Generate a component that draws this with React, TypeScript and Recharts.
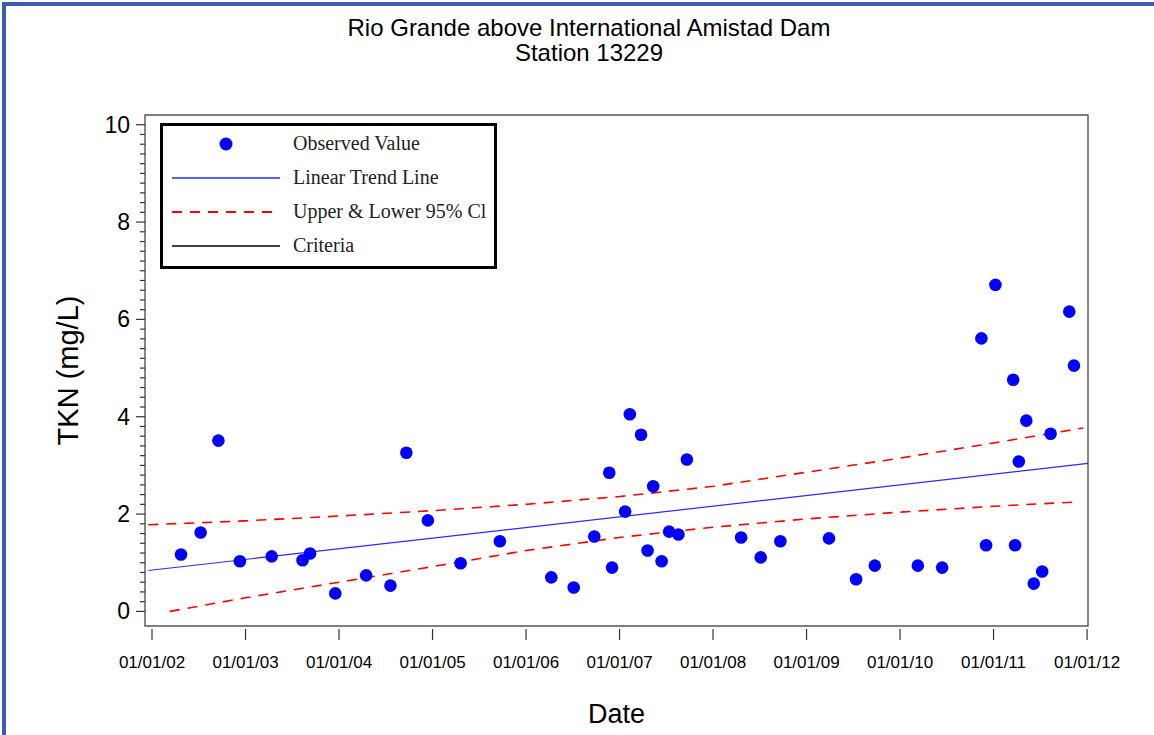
import React from "react";
import {
  ComposedChart,
  Scatter,
  Line,
  XAxis,
  YAxis,
  ReferenceArea,
} from "recharts";

// observed TKN samples (decimal year, mg/L)
const obsDates = [
  2002.31, 2002.52, 2002.71, 2002.94, 2003.28, 2003.61, 2003.69, 2003.96,
  2004.29, 2004.55, 2004.72, 2004.95, 2005.3, 2005.72, 2006.27, 2006.51,
  2006.73, 2006.89, 2006.92, 2007.06, 2007.11, 2007.23, 2007.3, 2007.36,
  2007.45, 2007.53, 2007.63, 2007.72, 2008.3, 2008.51, 2008.72, 2009.24,
  2009.53, 2009.73, 2010.19, 2010.45, 2010.87, 2010.92, 2011.02, 2011.21,
  2011.23, 2011.27, 2011.35, 2011.43, 2011.52, 2011.61, 2011.81, 2011.86,
];
const obsValues = [
  1.17, 1.62, 3.51, 1.03, 1.13, 1.05, 1.19, 0.37,
  0.74, 0.53, 3.26, 1.87, 0.99, 1.44, 0.7, 0.49,
  1.54, 2.85, 0.9, 2.05, 4.05, 3.63, 1.25, 2.57,
  1.03, 1.64, 1.58, 3.12, 1.52, 1.11, 1.44, 1.5,
  0.66, 0.94, 0.94, 0.9, 5.61, 1.36, 6.71, 4.76,
  1.36, 3.08, 3.92, 0.57, 0.82, 3.65, 6.16, 5.05,
];

const trendDates = [2001.96, 2012.01];
const trendValues = [0.84, 3.04];

const upperDates = [2001.96, 2003, 2004, 2005, 2006, 2007, 2008, 2009, 2010, 2011, 2011.96];
const upperValues = [1.78, 1.86, 1.96, 2.07, 2.2, 2.36, 2.57, 2.86, 3.15, 3.46, 3.77];

const lowerDates = [2002.19, 2003, 2004, 2005, 2006, 2007, 2008, 2009, 2010, 2011, 2011.9];
const lowerValues = [0.0, 0.28, 0.6, 0.92, 1.25, 1.52, 1.73, 1.9, 2.04, 2.16, 2.25];

const xTicks = [2002, 2003, 2004, 2005, 2006, 2007, 2008, 2009, 2010, 2011, 2012];
const xTickLabels = [
  "01/01/02", "01/01/03", "01/01/04", "01/01/05", "01/01/06", "01/01/07",
  "01/01/08", "01/01/09", "01/01/10", "01/01/11", "01/01/12",
];
const yMajorTicks = [0, 2, 4, 6, 8, 10];
const yTicks = Array.from({ length: 51 }, (_, i) => (i * 2) / 10);

const xDomain = [2001.925, 2012.01];
const yDomain = [-0.3, 10.2];

const sans = '"Liberation Sans", Arial, sans-serif';
const serif = '"Liberation Serif", "Times New Roman", serif';

const toPoints = (xs: number[], ys: number[]) => xs.map((x, i) => ({ x, y: ys[i] }));

const observed = toPoints(obsDates, obsValues);
const trend = toPoints(trendDates, trendValues);
const upper = toPoints(upperDates, upperValues);
const lower = toPoints(lowerDates, lowerValues);

function XTick({ x, y, payload }: any) {
  const idx = xTicks.indexOf(payload.value);
  return (
    <g>
      <line x1={x} x2={x} y1={y + 3} y2={y + 14} stroke="#333" strokeWidth={1.2} />
      <text x={x} y={y + 42} textAnchor="middle" fontSize={17} fontFamily={sans} fill="#000">
        {xTickLabels[idx]}
      </text>
    </g>
  );
}

function YTick({ x, y, payload }: any) {
  const v = payload.value;
  const major = yMajorTicks.some((m) => Math.abs(m - v) < 1e-6);
  return (
    <g>
      <line x1={x - (major ? 9 : 5)} x2={x} y1={y} y2={y} stroke="#333" strokeWidth={1.2} />
      {major && (
        <text x={x - 15} y={y + 8} textAnchor="end" fontSize={23} fontFamily={sans} fill="#000">
          {Math.round(v)}
        </text>
      )}
    </g>
  );
}

const legendItems = [
  { label: "Observed Value", kind: "dot", color: "#0000ff" },
  { label: "Linear Trend Line", kind: "line", color: "#2a2aff" },
  { label: "Upper & Lower 95% Cl", kind: "dash", color: "#ff0000" },
  { label: "Criteria", kind: "line", color: "#000000" },
];

function ChartLegend() {
  return (
    <div
      style={{
        position: "absolute",
        left: 160,
        top: 123,
        width: 337,
        height: 146,
        border: "3px solid #000",
        boxSizing: "border-box",
        background: "#fff",
      }}
    >
      <svg width={331} height={140} style={{ display: "block" }}>
        {legendItems.map((it, i) => {
          const cy = 18 + i * 34;
          return (
            <g key={it.label}>
              {it.kind === "dot" ? (
                <circle cx={63} cy={cy} r={6.5} fill={it.color} />
              ) : (
                <line
                  x1={9}
                  x2={117}
                  y1={cy}
                  y2={cy}
                  stroke={it.color}
                  strokeWidth={it.kind === "dash" ? 2 : 1.6}
                  strokeDasharray={it.kind === "dash" ? "10 8" : undefined}
                />
              )}
              <text x={130} y={cy + 6} fontSize={20} fontFamily={serif} fill="#222">
                {it.label}
              </text>
            </g>
          );
        })}
      </svg>
    </div>
  );
}

export default function App() {
  return (
    <div
      style={{
        position: "absolute",
        left: 0,
        top: 0,
        width: 1154,
        height: 735,
        background: "#fff",
        overflow: "hidden",
      }}
    >
      <div style={{ position: "absolute", left: 2, top: 2, right: 0, height: 4, background: "#3b5cb4" }} />
      <div style={{ position: "absolute", left: 2, top: 2, width: 4, bottom: 0, background: "#3b5cb4" }} />
      <div
        style={{
          position: "absolute",
          left: 239,
          top: 15,
          width: 700,
          textAlign: "center",
          fontFamily: sans,
          fontSize: 24,
          lineHeight: "25px",
          color: "#000",
        }}
      >
        <div>Rio Grande above International Amistad Dam</div>
        <div>Station 13229</div>
      </div>
      <div style={{ position: "absolute", left: 0, top: 0 }}>
        <ComposedChart
          width={1154}
          height={735}
          margin={{ top: 115, right: 66, left: 65, bottom: 9 }}
        >
          <XAxis
            type="number"
            dataKey="x"
            domain={xDomain}
            ticks={xTicks}
            interval={0}
            allowDataOverflow
            axisLine={false}
            tickLine={false}
            tickSize={0}
            tickMargin={0}
            height={100}
            tick={<XTick />}
            label={{
              content: ({ viewBox }: any) => (
                <text
                  x={viewBox.x + viewBox.width / 2}
                  y={viewBox.y + 97}
                  textAnchor="middle"
                  fontSize={27}
                  fontFamily={sans}
                  fill="#000"
                >
                  Date
                </text>
              ),
            }}
          />
          <YAxis
            type="number"
            dataKey="y"
            domain={yDomain}
            ticks={yTicks}
            interval={0}
            allowDataOverflow
            axisLine={false}
            tickLine={false}
            tickSize={0}
            tickMargin={0}
            width={80}
            tick={<YTick />}
            label={{
              content: ({ viewBox }: any) => {
                const lx = viewBox.x + 13;
                const ly = viewBox.y + viewBox.height / 2;
                return (
                  <text
                    x={lx}
                    y={ly}
                    transform={`rotate(-90 ${lx} ${ly})`}
                    textAnchor="middle"
                    fontSize={29}
                    fontFamily={sans}
                    fill="#000"
                  >
                    TKN (mg/L)
                  </text>
                );
              },
            }}
          />
          <ReferenceArea
            x1={xDomain[0]}
            x2={xDomain[1]}
            y1={yDomain[0]}
            y2={yDomain[1]}
            fill="none"
            stroke="#555"
            strokeWidth={1.4}
            ifOverflow="visible"
          />
          <Line
            data={upper}
            dataKey="y"
            type="linear"
            stroke="#ff0000"
            strokeWidth={1.6}
            strokeDasharray="10 8"
            dot={false}
            activeDot={false}
            isAnimationActive={false}
          />
          <Line
            data={lower}
            dataKey="y"
            type="linear"
            stroke="#ff0000"
            strokeWidth={1.6}
            strokeDasharray="10 8"
            dot={false}
            activeDot={false}
            isAnimationActive={false}
          />
          <Line
            data={trend}
            dataKey="y"
            type="linear"
            stroke="#2a2aff"
            strokeWidth={1.2}
            dot={false}
            activeDot={false}
            isAnimationActive={false}
          />
          <Scatter
            data={observed}
            dataKey="y"
            isAnimationActive={false}
            shape={(p: any) => <circle cx={p.cx} cy={p.cy} r={6.3} fill="#0000ff" />}
          />
        </ComposedChart>
      </div>
      <ChartLegend />
    </div>
  );
}
